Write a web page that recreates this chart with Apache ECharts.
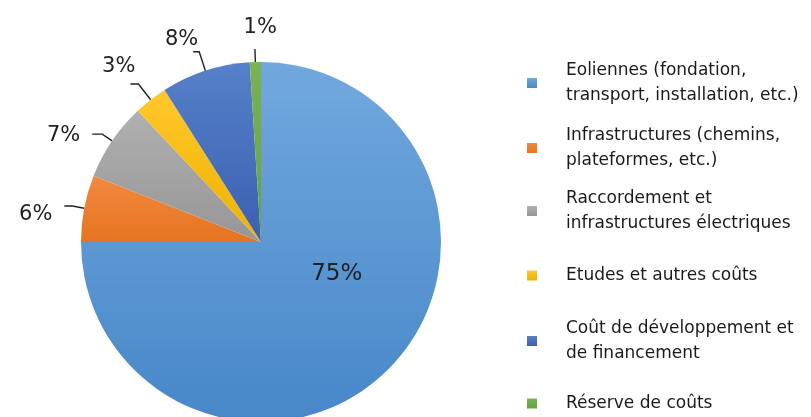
<!DOCTYPE html>
<html>
<head>
<meta charset="utf-8">
<script src="https://cdn.jsdelivr.net/npm/echarts@6/dist/echarts.min.js"></script>
<style>
  html, body { margin: 0; padding: 0; background: #fff; }
  #chart { width: 811px; height: 417px; }
</style>
</head>
<body>
<div id="chart"></div>
<script>
// ---- 数据 ----
var categories = [
  "Eoliennes (fondation,\ntransport, installation, etc.)",
  "Infrastructures (chemins,\nplateformes, etc.)",
  "Raccordement et\ninfrastructures électriques",
  "Etudes et autres coûts",
  "Coût de développement et\nde financement",
  "Réserve de coûts"
];
var shares = [75, 6, 7, 3, 8, 1];
// couleurs haut / bas (dégradé vertical)
var colorsTop    = ["#71a8de", "#f28a40", "#b0b0b0", "#ffc72a", "#5680c9", "#78b450"];
var colorsBottom = ["#4787c8", "#e6731f", "#969696", "#eeb200", "#3a60b0", "#62a33c"];
var legendTops   = [53, 118, 181, 258, 311, 386];
// traits de rappel (length, length2) et décalage des étiquettes (dx, dy)
var leaderLen    = [[0, 0], [12, 8], [12, 10], [20, 8], [20, 6], [13, 0]];
var labelShift   = [[0, 0], [-7, 9], [-7, 1], [10, -17], [10, -12], [27, -22]];

var FONT = "'DejaVu Sans', sans-serif";

function grad(i) {
  return new echarts.graphic.LinearGradient(0, 0, 0, 1, [
    { offset: 0, color: colorsTop[i] },
    { offset: 1, color: colorsBottom[i] }
  ]);
}

var chart = echarts.init(document.getElementById("chart"), null, { renderer: "canvas" });

var legends = categories.map(function(name, i) {
  return {
    data: [name],
    orient: "vertical",
    left: 522,
    top: legendTops[i],
    icon: "rect",
    itemWidth: 10,
    itemHeight: 10,
    selectedMode: false,
    textStyle: {
      fontFamily: FONT,
      fontSize: 17,
      color: "#1a1a1a",
      lineHeight: 25,
      padding: [0, 0, 0, 24]
    }
  };
});

chart.setOption({
  animation: false,
  color: colorsBottom,
  legend: legends,
  series: [{
    type: "pie",
    center: [261, 242],
    radius: 180,
    startAngle: 90,
    clockwise: true,
    avoidLabelOverlap: false,
    label: {
      show: true,
      position: "outside",
      formatter: "{c}%",
      fontFamily: FONT,
      fontSize: 21,
      color: "#222"
    },
    labelLine: {
      show: true,
      lineStyle: { color: "#222", width: 1.4 }
    },
    labelLayout: function(p) {
      if (p.dataIndex === 0) return {};
      var s = labelShift[p.dataIndex];
      return { dx: s[0], dy: s[1] };
    },
    emphasis: { disabled: true },
    data: shares.map(function(v, i) {
      var d = {
        name: categories[i],
        value: v,
        itemStyle: { color: grad(i) },
        labelLine: { length: leaderLen[i][0], length2: leaderLen[i][1] }
      };
      if (i === 0) {
        d.label = { position: "inside", fontSize: 23, offset: [10, -34] };
        d.labelLine = { show: false };
      }
      return d;
    })
  }]
});
</script>
</body>
</html>
